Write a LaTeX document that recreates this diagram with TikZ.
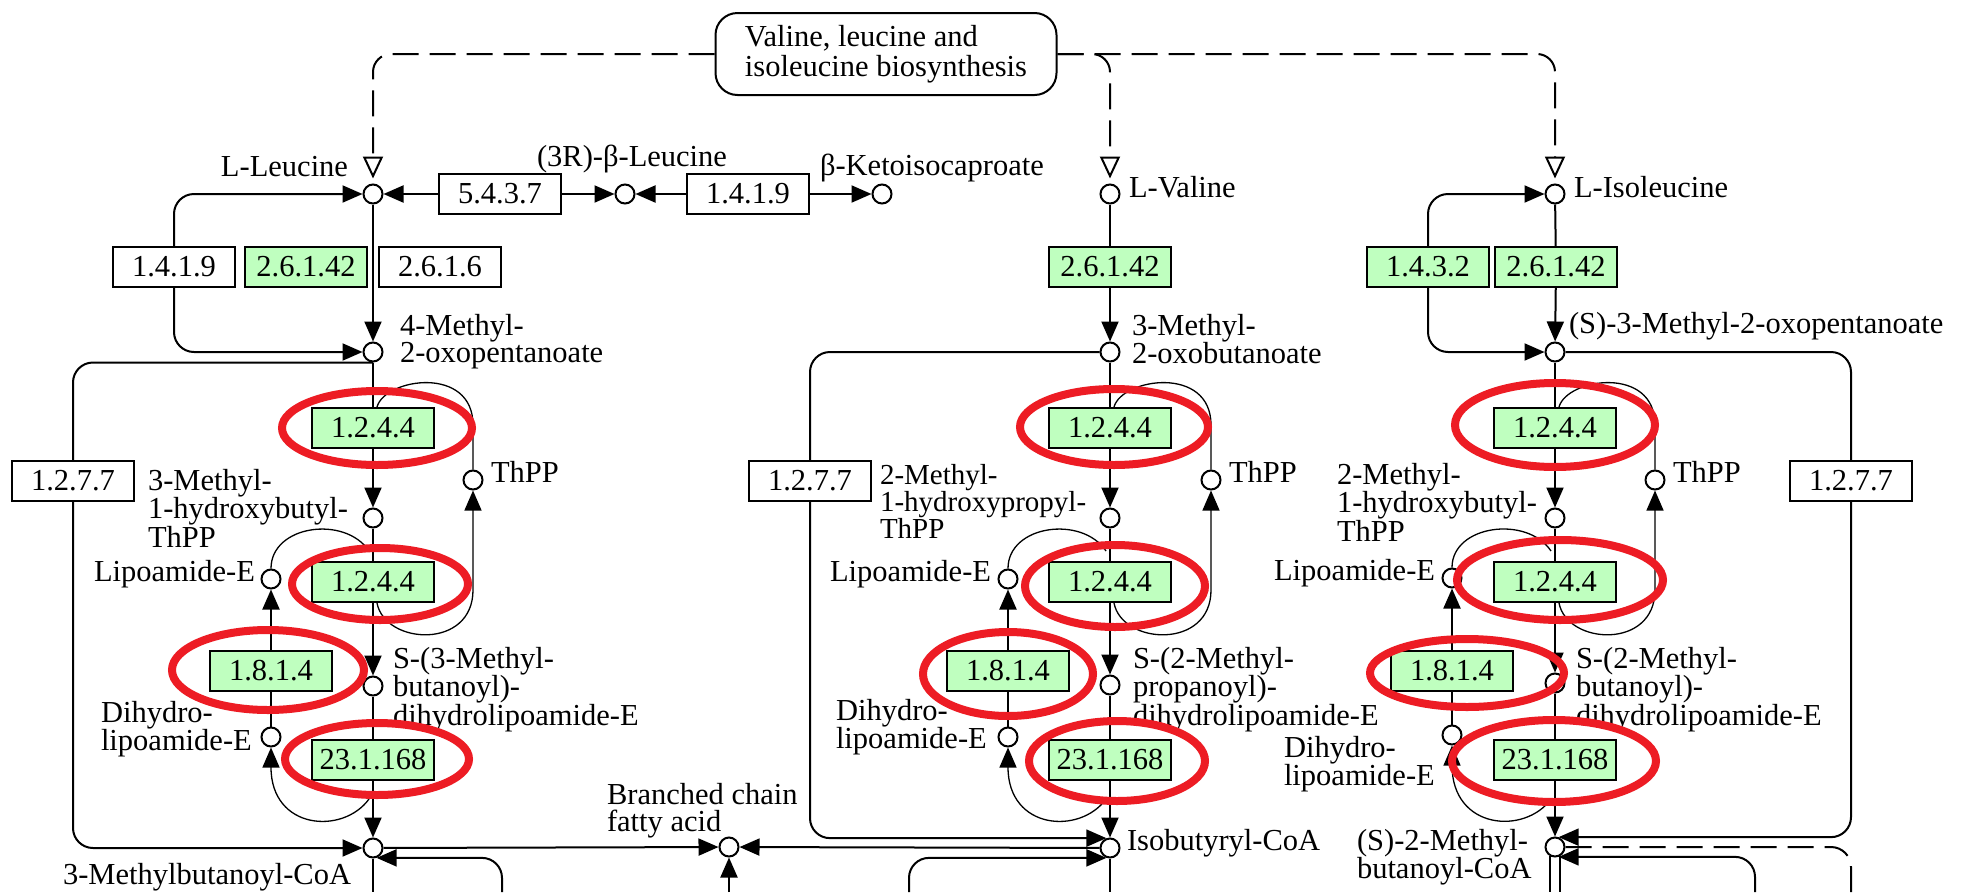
\documentclass[tikz,border=0pt]{standalone}
\usepackage{fontspec}
\setmainfont{Liberation Serif}
\usetikzlibrary{arrows.meta}
\definecolor{kgreen}{RGB}{191,255,191}
\definecolor{kred}{RGB}{237,28,36}
\begin{document}
\begin{tikzpicture}[x=1pt,y=-1pt,
	font=\fontsize{30.5}{27}\selectfont,
	line width=2pt,
	>={Triangle[length=20pt,width=17pt]},
	ec/.style={draw,fill=white,minimum width=122pt,minimum height=40pt,inner sep=0pt},
	ecg/.style={ec,fill=kgreen},
	cpd/.style={draw,circle,fill=white,minimum size=19pt,inner sep=0pt},
	lbl/.style={inner sep=0pt,align=left},
	hit/.style={draw=kred,line width=8pt},
	thinl/.style={line width=1.3pt},
	dsh/.style={dash pattern=on 26pt off 11pt},
	opn/.style={-{Triangle[open,length=22pt,width=20pt]}}]
	\path[use as bounding box,fill=white] (0,0) rectangle (1973,892);
	% map title
	\node[draw,fill=white,rounded corners=22pt,minimum width=341pt,minimum height=82pt,align=left,font=\fontsize{30.5}{30}\selectfont] (title) at (886,54) {Valine, leucine and\\isoleucine biosynthesis};
	% top compounds and enzymes
	\node[cpd] (leu) at (373,194) {};
	\node[ec] (b5437) at (500,194) {5.4.3.7};
	\node[cpd] (bleu) at (625,194) {};
	\node[ec] (b1419b) at (748,194) {1.4.1.9};
	\node[cpd] (kic) at (882,194) {};
	\node[cpd] (val) at (1110,194) {};
	\node[cpd] (ile) at (1555,194) {};
	\node[ec] (b1419a) at (174,267) {1.4.1.9};
	\node[ecg] (b26142a) at (306,267) {2.6.1.42};
	\node[ec] (b2616) at (440,267) {2.6.1.6};
	\node[ecg] (b26142b) at (1110,267) {2.6.1.42};
	\node[ecg] (b1432) at (1428,267) {1.4.3.2};
	\node[ecg] (b26142c) at (1556,267) {2.6.1.42};
	\node[cpd] (mop) at (373,352) {};
	\node[cpd] (mob) at (1110,352) {};
	\node[cpd] (smop) at (1555,352) {};
	% leucine column
	\node[ecg] (e1a) at (373,428) {1.2.4.4};
	\node[ecg] (e1b) at (373,582) {1.2.4.4};
	\node[ecg] (e1c) at (271,671) {1.8.1.4};
	\node[ecg] (e1d) at (373,760) {23.1.168};
	\node[cpd] (thpp1) at (473,480) {};
	\node[cpd] (hthpp1) at (373,518) {};
	\node[cpd] (lip1) at (271,579) {};
	\node[cpd] (sdl1) at (373,686) {};
	\node[cpd] (dhl1) at (271,737) {};
	\node[cpd] (coa1) at (373,848) {};
	\node[ec] (b1277a) at (73,481) {1.2.7.7};
	\node[cpd] (bcfa) at (729,847) {};
	% valine column
	\node[ecg] (e2a) at (1110,428) {1.2.4.4};
	\node[ecg] (e2b) at (1110,582) {1.2.4.4};
	\node[ecg] (e2c) at (1008,671) {1.8.1.4};
	\node[ecg] (e2d) at (1110,760) {23.1.168};
	\node[cpd] (thpp2) at (1211,480) {};
	\node[cpd] (hthpp2) at (1110,518) {};
	\node[cpd] (lip2) at (1008,579) {};
	\node[cpd] (sdl2) at (1110,685) {};
	\node[cpd] (dhl2) at (1008,737) {};
	\node[cpd] (coa2) at (1110,848) {};
	\node[ec] (b1277b) at (810,481) {1.2.7.7};
	% isoleucine column
	\node[ecg] (e3a) at (1555,428) {1.2.4.4};
	\node[ecg] (e3b) at (1555,582) {1.2.4.4};
	\node[ecg] (e3c) at (1452,671) {1.8.1.4};
	\node[ecg] (e3d) at (1555,760) {23.1.168};
	\node[cpd] (thpp3) at (1655,480) {};
	\node[cpd] (hthpp3) at (1555,518) {};
	\node[cpd] (lip3) at (1452,578) {};
	\node[cpd] (sdl3) at (1555,683) {};
	\node[cpd] (dhl3) at (1452,735) {};
	\node[cpd] (coa3) at (1555,847) {};
	\node[ec] (b1277c) at (1851,481) {1.2.7.7};
	% free ends at the lower edge
	\coordinate (c1) at (373,892);
	\coordinate (c2) at (1110,892);
	\coordinate (c3) at (1555,892);
	\coordinate (f1) at (502,892);
	\coordinate (f2) at (909,892);
	\coordinate (f3) at (1755,892);
	\coordinate (f4) at (729,892);
	\coordinate (d3) at (1851,892);
	% labels
	\node[lbl,anchor=base east] (lleu) at (349,176) {L-Leucine};
	\node[lbl,anchor=base west] (lbleu) at (536,166) {(3R)-β-Leucine};
	\node[lbl,anchor=base west] (lkic) at (819,175) {β-Ketoisocaproate};
	\node[lbl,anchor=mid west] (lval) at (1128,195) {L-Valine};
	\node[lbl,anchor=mid west] (lile) at (1573,195) {L-Isoleucine};
	\node[lbl,anchor=north west] (lmop) at (399,313) {4-Methyl-\\2-oxopentanoate};
	\node[lbl,anchor=north west] (lmob) at (1131,313) {3-Methyl-\\2-oxobutanoate};
	\node[lbl,anchor=base west] (lsmop) at (1568,333) {(S)-3-Methyl-2-oxopentanoate};
	\node[lbl,anchor=north west] (lhthpp1) at (147,468) {3-Methyl-\\1-hydroxybutyl-\\ThPP};
	\node[lbl,anchor=north west,font=\fontsize{29}{27}\selectfont] (lhthpp2) at (879,463) {2-Methyl-\\1-hydroxypropyl-\\ThPP};
	\node[lbl,anchor=north west] (lhthpp3) at (1336,462) {2-Methyl-\\1-hydroxybutyl-\\ThPP};
	\node[lbl,anchor=mid west] (lthpp1) at (490,480) {ThPP};
	\node[lbl,anchor=mid west] (lthpp2) at (1228,480) {ThPP};
	\node[lbl,anchor=mid west] (lthpp3) at (1672,480) {ThPP};
	\node[lbl,anchor=mid east] (llip1) at (256,579) {Lipoamide-E};
	\node[lbl,anchor=mid east] (llip2) at (992,579) {Lipoamide-E};
	\node[lbl,anchor=mid east] (llip3) at (1436,578) {Lipoamide-E};
	\node[lbl,anchor=north west] (lsdl1) at (392,646) {S-(3-Methyl-\\butanoyl)-\\dihydrolipoamide-E};
	\node[lbl,anchor=north west] (lsdl2) at (1132,646) {S-(2-Methyl-\\propanoyl)-\\dihydrolipoamide-E};
	\node[lbl,anchor=north west] (lsdl3) at (1575,646) {S-(2-Methyl-\\butanoyl)-\\dihydrolipoamide-E};
	\node[lbl,anchor=north west] (ldhl1) at (100,700) {Dihydro-\\lipoamide-E};
	\node[lbl,anchor=north west] (ldhl2) at (835,698) {Dihydro-\\lipoamide-E};
	\node[lbl,anchor=north west] (ldhl3) at (1283,735) {Dihydro-\\lipoamide-E};
	\node[lbl,anchor=base west] (lcoa1) at (62,884) {3-Methylbutanoyl-CoA};
	\node[lbl,anchor=mid west] (lcoa2) at (1126,848) {Isobutyryl-CoA};
	\node[lbl,anchor=north west] (lcoa3) at (1356,828) {(S)-2-Methyl-\\butanoyl-CoA};
	\node[lbl,anchor=north west] (lbcfa) at (606,782) {Branched chain\\fatty acid};
	% links to the biosynthesis map
	\draw[dsh,opn,rounded corners=18pt,shorten >=5pt] (title) -| (leu);
	\draw[dsh,opn,rounded corners=18pt,shorten >=5pt] (title) -| (val);
	\draw[dsh,opn,rounded corners=18pt,shorten >=5pt] (title) -| (ile);
	% top reactions
	\draw[->] (b5437) -- (leu);
	\draw[->] (b5437) -- (bleu);
	\draw[->] (b1419b) -- (bleu);
	\draw[->] (b1419b) -- (kic);
	\draw[->] (leu) -- (mop);
	\draw[->,rounded corners=20pt] (b1419a) |- (leu);
	\draw[->,rounded corners=20pt] (b1419a) |- (mop);
	\draw (val) -- (b26142b);
	\draw[->] (b26142b) -- (mob);
	\draw (ile) -- (b26142c);
	\draw[->] (b26142c) -- (smop);
	\draw[->,rounded corners=20pt] (b1432) |- (ile);
	\draw[->,rounded corners=20pt] (b1432) |- (smop);
	% leucine column
	\draw (mop) -- (e1a);
	\draw[->] (e1a) -- (hthpp1);
	\draw (hthpp1) -- (e1b);
	\draw[->] (e1b) -- (sdl1);
	\draw (sdl1) -- (e1d);
	\draw[->] (e1d) -- (coa1);
	\draw (dhl1) -- (e1c);
	\draw[->] (e1c) -- (lip1);
	\draw[thinl] ([xshift=4pt]e1a.north) .. controls (385,378) and (473,365) .. (473,425) -- (thpp1);
	\draw[thinl,->] ([xshift=4pt]e1b.south) .. controls (385,645) and (473,650) .. (473,590) -- (thpp1);
	\draw[thinl] (lip1) .. controls (271,525) and (345,515) .. ([xshift=-4pt,yshift=10pt]e1b.north);
	\draw[thinl,->] ([xshift=-4pt,yshift=-18pt]e1d.south) .. controls (343,835) and (271,830) .. (dhl1);
	\draw[rounded corners=20pt] (mop.south) -| (b1277a);
	\draw[->,rounded corners=20pt] (b1277a) |- (coa1);
	\draw (coa1) -- (c1);
	\draw[->] (coa1) -- (bcfa);
	\draw[->,rounded corners=20pt] (f1) |- (coa1.-70);
	\draw[->] (f4) -- (bcfa);
	% valine column
	\draw (mob) -- (e2a);
	\draw[->] (e2a) -- (hthpp2);
	\draw (hthpp2) -- (e2b);
	\draw[->] (e2b) -- (sdl2);
	\draw (sdl2) -- (e2d);
	\draw[->] (e2d) -- (coa2);
	\draw (dhl2) -- (e2c);
	\draw[->] (e2c) -- (lip2);
	\draw[thinl] ([xshift=4pt]e2a.north) .. controls (1122,378) and (1211,365) .. (1211,425) -- (thpp2);
	\draw[thinl,->] ([xshift=4pt]e2b.south) .. controls (1122,645) and (1211,650) .. (1211,590) -- (thpp2);
	\draw[thinl] (lip2) .. controls (1008,525) and (1082,515) .. ([xshift=-4pt,yshift=10pt]e2b.north);
	\draw[thinl,->] ([xshift=-4pt,yshift=-18pt]e2d.south) .. controls (1080,835) and (1008,830) .. (dhl2);
	\draw[rounded corners=20pt] (mob) -| (b1277b);
	\draw[->,rounded corners=20pt] (b1277b) |- (coa2.110);
	\draw (coa2) -- (c2);
	\draw[->] (coa2) -- (bcfa);
	\draw[->,rounded corners=20pt] (f2) |- (coa2.-110);
	% isoleucine column
	\draw (smop) -- (e3a);
	\draw[->] (e3a) -- (hthpp3);
	\draw (hthpp3) -- (e3b);
	\draw[->] (e3b) -- (sdl3);
	\draw (sdl3) -- (e3d);
	\draw[->] (e3d) -- (coa3);
	\draw (dhl3) -- (e3c);
	\draw[->] (e3c) -- (lip3);
	\draw[thinl] ([xshift=4pt]e3a.north) .. controls (1567,378) and (1655,365) .. (1655,425) -- (thpp3);
	\draw[thinl,->] ([xshift=4pt]e3b.south) .. controls (1567,645) and (1655,650) .. (1655,590) -- (thpp3);
	\draw[thinl] (lip3) .. controls (1452,525) and (1527,515) .. ([xshift=-4pt,yshift=10pt]e3b.north);
	\draw[thinl,->] ([xshift=-4pt,yshift=-18pt]e3d.south) .. controls (1525,835) and (1452,830) .. (dhl3);
	\draw[rounded corners=20pt] (smop) -| (b1277c);
	\draw[->,rounded corners=20pt] (b1277c) |- (coa3.70);
	\draw[dsh,rounded corners=20pt] (coa3.east) -| (d3);
	\draw[->,rounded corners=20pt] (f3) |- (coa3.-70);
	\draw (coa3.-118) -- (coa3.-118 |- c3);
	\draw (coa3.-62) -- (coa3.-62 |- c3);
	% red marks
	\draw[hit] (377,428) ellipse (95pt and 37pt);
	\draw[hit] (380,584) ellipse (88pt and 36pt);
	\draw[hit] (268,670) ellipse (96pt and 40pt);
	\draw[hit] (377,759) ellipse (92pt and 36pt);
	\draw[hit] (1114,427) ellipse (94pt and 38pt);
	\draw[hit] (1115,586) ellipse (90pt and 41pt);
	\draw[hit] (1008,674) ellipse (85pt and 42pt);
	\draw[hit] (1117,761) ellipse (88pt and 40pt);
	\draw[hit] (1555,425) ellipse (100pt and 42pt);
	\draw[hit] (1560,580) ellipse (103pt and 40pt);
	\draw[hit] (1467,673) ellipse (97pt and 34pt);
	\draw[hit] (1554,761) ellipse (102pt and 41pt);
\end{tikzpicture}
\end{document}
